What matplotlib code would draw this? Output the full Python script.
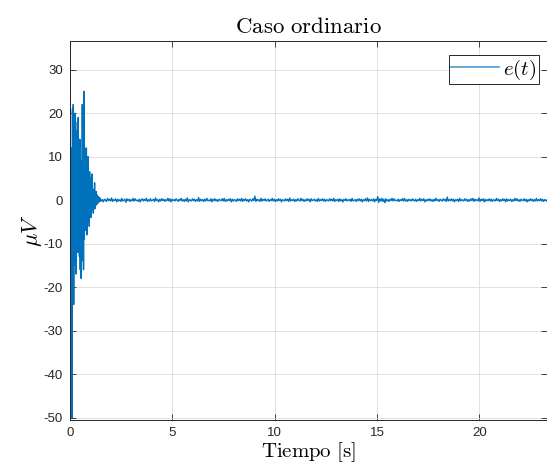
import numpy as np
import matplotlib
matplotlib.use("Agg")
import matplotlib.pyplot as plt

# error signal e(t) in microvolts
# transient burst, sampled every 0.02 s starting at t = 0
burst_dt = 0.02
burst_uv = [37, -17, 8, 12, -12, -50, 21, -10, 22, -24, 18, -8, 20, -15, 16, -17,
            12, -9, 18, -12, 19, -11, 10, -13, 14, -16, 9, -18, 6, -14, 22, -7,
            11, -16, 25, -9, 12, -6, 9, -7, 12, -8, 7, -4, 10, -5, 4, -6, 6.5,
            -3, 5, -4, 3, -2.5, 6, -2, 2, -3, 2.5, -1.5, 4, -2, 1.5, -1.2, 2,
            -1, 1.2, -0.8, 0.9, -0.6, 0.5, -0.4, 0.6, -0.3]

# steady-state noise after the burst, every 0.05 s, in tenths of a microvolt
noise_dt = 0.05
noise_tenths = [
    3, -2, 1, -4, 2, 0, -3, 4, -1, 2, -2, 5, -3, 1, -1, 3, -4, 2, -2, 1,
    -3, 4, -2, 0, 2, -5, 3, -1, 2, -3, 1, -2, 4, -2, 3, -1, 0, -3, 2, -4,
    1, 3, -2, 2, -1, 4, -3, 1, -2, 3, -2, 0, 2, -3, 5, -1, 1, -4, 2, -2,
    3, -1, 2, -3, 1, -1, 4, -2, 3, -4, 2, -1, 1, -2, 3, 0, -3, 2, -1, 4,
    -2, 1, -3, 2, -2, 5, -4, 1, 0, -2, 3, -1, 2, -3, 1, -2, 6, -3, 2, -1,
    1, -3, 2, -2, 4, -1, 0, -2, 3, -4, 2, -1, 3, -2, 1, -3, 2, 0, -1, 3,
    -2, 4, -3, 1, -2, 2, -1, 3, -4, 2, -2, 1, 0, -3, 3, -1, 2, -2, 4, -3,
    2, -1, 3, -2, 1, -4, 2, 0, -2, 3, -1, 9, -3, 2, -1, 1, -3, 4, -2, 2,
    -1, 3, -2, 0, 2, -3, 1, -1, 4, -2, 2, -3, 1, -2, 3, -1, 2, -4, 1, 0,
    -2, 3, -1, 2, -3, 5, -2, 1, -1, 2, -3, 1, -2, 3, 0, -2, 4, -1, 2, -3,
    1, -2, 3, -1, 2, -4, 3, -1, 0, 2, -2, 1, -3, 4, -2, 1, -1, 3, -2, 2,
    -3, 1, 0, -2, 3, -1, 2, -2, 4, -3, 1, -1, 2, -3, 3, -2, 1, -4, 2, -1,
    3, -2, 1, -1, 2, -3, 4, -2, 0, 1, -3, 2, -1, 3, -2, 2, -4, 1, -1, 3,
    -2, 5, -3, 2, -1, 1, -2, 3, -4, 2, -1, 8, -5, 3, -2, 4, -3, 2, -6, 3,
    -2, 1, -3, 2, -1, 4, -2, 3, -1, 0, -2, 2, -3, 1, -1, 3, -2, 4, -2, 1,
    -3, 2, -1, 1, -2, 3, 0, -2, 2, -3, 1, -1, 4, -2, 2, -1, 3, -4, 1, -2,
    2, -1, 3, -2, 1, -3, 2, -2, 4, -1, 1, -3, 2, 0, -2, 3, -1, 2, -3, 7,
    -2, 1, -1, 3, -2, 2, -4, 1, -1, 2, -3, 4, -2, 1, 0, -2, 3, -1, 2, -3,
    1, -2, 3, -1, 4, -3, 2, -1, 1, -2, 5, -3, 2, -1, 3, -4, 2, -2, 1, -1,
    3, -2, 2, -3, 1, 0, -2, 4, -1, 2, -3, 1, -2, 3, -1, 2, -4, 3, -2, 1,
    -1, 2, -3, 1, -2, 4, -1, 3, -2, 1, -3, 2, 0, -1, 3, -2, 2, -4, 1, -2,
    3, -1, 2, -3, 1, -2, 4, -2, 1, -1, 3, -2, 2, -3, 1, 0, -2, 3, -1, 2,
]

t_burst = np.arange(len(burst_uv)) * burst_dt
t_noise = t_burst[-1] + burst_dt + np.arange(len(noise_tenths)) * noise_dt
t = np.concatenate([t_burst, t_noise])
e = np.concatenate([np.array(burst_uv, float), np.array(noise_tenths) / 10.0])

plt.rcParams["mathtext.fontset"] = "cm"
plt.rcParams["font.family"] = ["Liberation Sans", "DejaVu Sans"]
plt.rcParams["axes.unicode_minus"] = False

fig = plt.figure(figsize=(5.47, 4.71), dpi=100)
ax = fig.add_axes([0.128, 0.108, 0.872, 0.805])

line_color = "#0072BD"
ax.plot(t, e, color=line_color, lw=1.0, label=r"$e(t)$")

ax.set_xlim(0, 23.3)
ax.set_ylim(-50.6, 36.6)
ax.set_xticks([0, 5, 10, 15, 20])
ax.set_yticks(np.arange(-50, 31, 10))
ax.tick_params(direction="in", length=4, width=0.6, top=True, right=True,
               labelsize=9.5, colors="#262626", pad=5)
ax.grid(True, color="#dcdcdc", lw=0.6)
ax.set_axisbelow(True)
for s in ax.spines.values():
    s.set_color("#262626")
    s.set_linewidth(0.7)

ax.set_title(r"$\mathrm{Caso\ ordinario}$", fontsize=16.5, pad=6)
ax.set_xlabel(r"$\mathrm{Tiempo\ [s]}$", fontsize=15, labelpad=1)
ax.set_ylabel(r"$\mu V$", fontsize=16, labelpad=0)

leg = ax.legend(loc="upper right", fontsize=15, fancybox=False, framealpha=1,
                edgecolor="#262626", handlelength=2.3, borderpad=0.12,
                handletextpad=0.2, borderaxespad=0.0,
                bbox_to_anchor=(0.983, 0.963))
leg.get_frame().set_linewidth(0.7)
leg.get_lines()[0].set_color("#4a9ad6")
leg.get_lines()[0].set_linewidth(1.2)

fig.savefig("out.png", dpi=100)
